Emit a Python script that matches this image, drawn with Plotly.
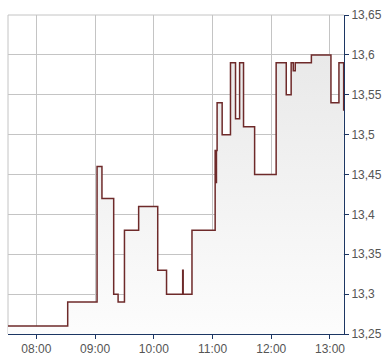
import plotly.graph_objects as go
import pandas as pd

day = "2024-01-15 "
times = ["07:31:00", "08:32:00", "09:02:00", "09:07:00", "09:19:00", "09:23:30", "09:30:00",
         "09:44:30", "10:04:00", "10:13:00", "10:29:30", "10:30:00", "10:39:00",
         "11:02:40", "11:03:00", "11:03:20", "11:03:40", "11:04:00", "11:04:40",
         "11:09:50", "11:18:20", "11:23:30", "11:27:40", "11:31:40", "11:43:00",
         "12:05:00", "12:15:20", "12:20:20", "12:22:30", "12:24:30", "12:41:00",
         "13:01:00", "13:09:10", "13:14:00"]
prices = [13.26, 13.29, 13.46, 13.42, 13.30, 13.29, 13.38,
          13.41, 13.33, 13.30, 13.33, 13.30, 13.38,
          13.48, 13.44, 13.48, 13.44, 13.48, 13.54,
          13.50, 13.59, 13.52, 13.59, 13.51, 13.45,
          13.59, 13.55, 13.59, 13.58, 13.59, 13.60,
          13.54, 13.59, 13.53]

y_ticks = [13.25, 13.30, 13.35, 13.40, 13.45, 13.50, 13.55, 13.60, 13.65]
y_labels = ["13,25", "13,3", "13,35", "13,4", "13,45", "13,5", "13,55", "13,6", "13,65"]
x_ticks = ["08:00", "09:00", "10:00", "11:00", "12:00", "13:00"]

xs = pd.to_datetime([day + t for t in times])

fig = go.Figure()
fig.add_trace(go.Scatter(
    x=xs, y=prices, mode="lines", line_shape="hv",
    line=dict(color="#6e2a2a", width=1.5),
    fill="tozeroy",
    fillgradient=dict(type="vertical",
                      colorscale=[[0, "#fdfdfd"], [1, "#e9e9e9"]],
                      start=13.25, stop=13.60),
    hoverinfo="skip",
))

navy = "#1c3663"
fig.update_layout(
    width=390, height=364,
    margin=dict(l=8, r=46, t=11, b=26),
    paper_bgcolor="white", plot_bgcolor="white",
    showlegend=False,
    font=dict(family="Liberation Sans, Arial, sans-serif", size=12, color="#555555"),
    xaxis=dict(
        type="date",
        range=[day + "07:31:00", day + "13:14:20"],
        tickvals=[day + t for t in x_ticks], ticktext=x_ticks,
        showgrid=True, gridcolor="#c4c4c4", gridwidth=1,
        showline=True, linecolor=navy, linewidth=1,
        ticks="outside", ticklen=4, tickcolor=navy,
        zeroline=False, fixedrange=True,
    ),
    yaxis=dict(
        side="right", range=[13.25, 13.65],
        tickvals=y_ticks, ticktext=y_labels,
        showgrid=True, gridcolor="#c4c4c4", gridwidth=1,
        showline=True, linecolor=navy, linewidth=1,
        ticks="outside", ticklen=4, tickcolor=navy,
        zeroline=False, fixedrange=True,
    ),
    shapes=[
        dict(type="line", xref="paper", yref="paper", x0=0, x1=0, y0=0, y1=1,
             line=dict(color="#c4c4c4", width=1), layer="below"),
        dict(type="line", xref="paper", yref="paper", x0=0, x1=1, y0=1, y1=1,
             line=dict(color="#c4c4c4", width=1), layer="below"),
    ],
)

fig.write_html("out.html")
